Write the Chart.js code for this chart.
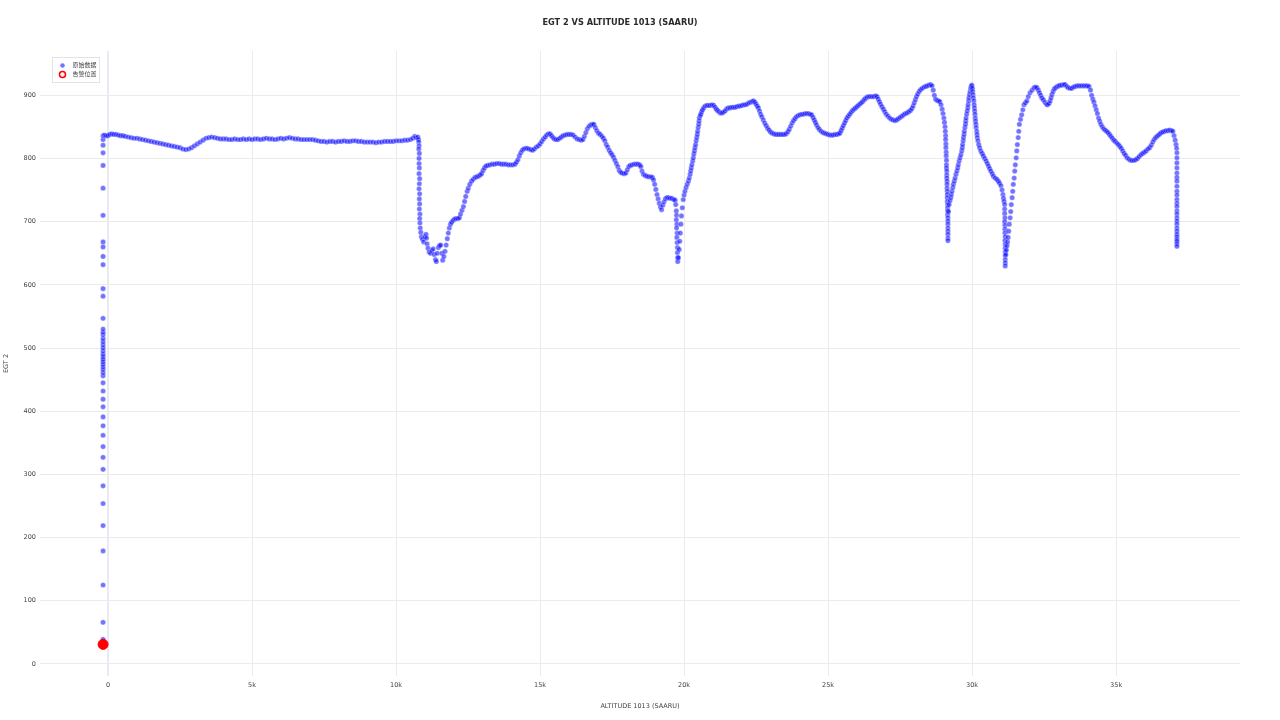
<!DOCTYPE html>
<html>
<head>
<meta charset="utf-8">
<script src="https://cdn.jsdelivr.net/npm/chart.js@4.4.1/dist/chart.umd.min.js"></script>
<style>
  html, body { margin: 0; padding: 0; background: #fff; }
  canvas { display: block; }
</style>
</head>
<body>
<canvas id="chart" width="1280" height="720"></canvas>
<script>
// Axis ticks
const altitudeTicks = [0, 5000, 10000, 15000, 20000, 25000, 30000, 35000];
const egtTicks = [0, 100, 200, 300, 400, 500, 600, 700, 800, 900];

// Raw samples: ALTITUDE 1013 (SAARU) vs EGT 2
const altitude = [
  // ground run before takeoff
  -170, -170, -170, -170, -170, -170, -170, -170, -170, -170,
  -170, -170, -170, -170, -170, -170, -170, -170, -170, -170,
  -170, -170, -170, -170, -170, -170, -170, -170, -170, -170,
  -170, -170, -170, -170, -170, -170, -170, -170, -170, -170,
  -170, -170, -170, -170, -170, -170, -170, -170, -170,
  // climb 0 - 10.8k
  -120, -60, 0, 60, 130, 200, 280, 360, 440, 520,
  600, 700, 800, 900, 1000, 1100, 1200, 1300, 1400, 1500,
  1600, 1700, 1800, 1900, 2000, 2100, 2200, 2300, 2400, 2500,
  2600, 2700, 2800, 2900, 3000, 3100, 3200, 3300, 3400, 3500,
  3600, 3700, 3800, 3900, 4000, 4100, 4200, 4300, 4400, 4500,
  4600, 4700, 4800, 4900, 5000, 5100, 5200, 5300, 5400, 5500,
  5600, 5700, 5800, 5900, 6000, 6100, 6200, 6300, 6400, 6500,
  6600, 6700, 6800, 6900, 7000, 7100, 7200, 7300, 7400, 7500,
  7600, 7700, 7800, 7900, 8000, 8100, 8200, 8300, 8400, 8500,
  8600, 8700, 8800, 8900, 9000, 9100, 9200, 9300, 9400, 9500,
  9600, 9700, 9800, 9900, 10000, 10100, 10200, 10300, 10400, 10500,
  10580, 10650, 10700, 10760, 10780, 10790, 10800, 10790, 10810, 10800,
  // drop at 10.8k and recovery
  10800, 10810, 10800, 10820, 10810, 10800, 10820, 10810, 10820, 10810,
  10830, 10820, 10830, 10840, 10860, 10880, 10920, 10960, 11000, 11040,
  11060, 11080, 11110, 11150, 11200, 11250, 11290, 11330, 11370, 11400,
  11430, 11470, 11510, 11550, 11590, 11620, 11660, 11700, 11740, 11780,
  11815, 11850, 11890, 11930, 11980, 12030, 12080, 12140, 12200, 12240,
  12290, 12340, 12380, 12420, 12470, 12510, 12560, 12620, 12680, 12740,
  12800, 12860, 12920, 12970, 13020, 13070, 13120, 13180, 13260, 13340,
  13420, 13500, 13580, 13660, 13740, 13820, 13900, 13980, 14060, 14130,
  14180, 14230, 14280, 14330, 14380, 14430, 14500, 14560, 14620, 14680,
  14740, 14800, 14870, 14940, 15000, 15060, 15120, 15180, 15230, 15290,
  15350, 15400, 15450, 15500, 15560, 15620, 15680, 15740, 15800, 15870,
  15940, 16010, 16080, 16150, 16220, 16290, 16360, 16430, 16490, 16540,
  16590, 16640, 16700, 16760, 16820, 16870, 16920, 16970, 17030, 17090,
  17150, 17200, 17250, 17300, 17350, 17400, 17450, 17500, 17550, 17600,
  17650, 17700, 17750, 17800, 17850, 17920, 17980, 18030, 18080, 18130,
  18200, 18270, 18340, 18400, 18460, 18500, 18540, 18590, 18650, 18710,
  18770, 18840, 18900, 18940, 18980, 19020, 19060, 19100, 19140, 19180,
  19220, 19260, 19300, 19350, 19400, 19460, 19520, 19580, 19640, 19690,
  // drop at 19.7k
  19710, 19730, 19740, 19730, 19750, 19740, 19760, 19750, 19760, 19770,
  19770, 19780, 19780, 19800, 19830, 19850, 19870, 19890, 19910, 19940,
  19970, 20000, 20030, 20070, 20110, 20150, 20180, 20210, 20230, 20250,
  20270, 20300, 20320, 20340, 20360, 20380, 20400, 20420, 20440, 20460,
  20470, 20490, 20510, 20520, 20530, 20560, 20580, 20610, 20640, 20680,
  20730, 20790, 20850, 20910, 20970, 21030, 21080, 21120, 21160, 21210,
  21260, 21310, 21360, 21420, 21470, 21530, 21590, 21650, 21710, 21770,
  21830, 21890, 21950, 22010, 22070, 22130, 22190, 22250, 22310, 22370,
  22410, 22460, 22500, 22540, 22580, 22620, 22660, 22700, 22750, 22800,
  22850, 22900, 22950, 23000, 23060, 23120, 23180, 23240, 23300, 23360,
  23420, 23480, 23540, 23600, 23650, 23700, 23750, 23800, 23850, 23900,
  23960, 24020, 24080, 24140, 24200, 24260, 24320, 24380, 24430, 24480,
  24520, 24560, 24600, 24650, 24700, 24760, 24820, 24880, 24940, 25000,
  25060, 25120, 25180, 25240, 25300, 25360, 25410, 25450, 25490, 25530,
  25570, 25610, 25650, 25700, 25750, 25800, 25850, 25900, 25950, 26000,
  26050, 26100, 26150, 26200, 26250, 26300, 26350, 26410, 26470, 26530,
  26590, 26650, 26700, 26740, 26780, 26820, 26870, 26920, 26970, 27020,
  27080, 27140, 27200, 27260, 27320, 27380, 27440, 27500, 27560, 27620,
  27680, 27740, 27800, 27860, 27910, 27950, 27990, 28030, 28070, 28110,
  28160, 28210, 28270, 28330, 28390, 28440, 28500, 28560, 28610, 28650,
  28690, 28730, 28780, 28830, 28880, 28920, 28960, 28990, 29020, 29040,
  // drop at 29.1k
  29060, 29070, 29080, 29080, 29090, 29090, 29100, 29100, 29110, 29110,
  29110, 29120, 29120, 29120, 29130, 29130, 29130, 29140, 29140, 29140,
  29140, 29150, 29150, 29150, 29150, 29160, 29160, 29160, 29160, 29160,
  29160, 29160, 29160, 29180, 29200, 29230, 29260, 29280, 29300, 29330,
  29350, 29380, 29410, 29440, 29470, 29500, 29520, 29550, 29580, 29610,
  29640, 29660, 29670, 29690, 29700, 29720, 29730, 29750, 29770, 29780,
  29790, 29810, 29830, 29850, 29860, 29880, 29890, 29910, 29930, 29950,
  29970, 29990, 30010, 30020, 30030, 30040, 30060, 30070, 30080, 30090,
  30100, 30110, 30120, 30130, 30140, 30160, 30170, 30180, 30200, 30230,
  30260, 30300, 30350, 30390, 30440, 30490, 30530, 30570, 30610, 30650,
  30700, 30740, 30800, 30860, 30910, 30950, 31000, 31040, 31070, 31090,
  // drop at 31.1k
  31110, 31130, 31130, 31130, 31140, 31130, 31140, 31140, 31140, 31150,
  31140, 31150, 31150, 31150, 31150, 31150, 31150, 31150, 31170, 31190,
  31210, 31230, 31250, 31270, 31290, 31320, 31340, 31360, 31390, 31410,
  31430, 31460, 31480, 31500, 31530, 31550, 31570, 31600, 31620, 31640,
  31680, 31720, 31760, 31800, 31850, 31900, 31950, 32010, 32080, 32150,
  32200, 32250, 32300, 32340, 32380, 32420, 32470, 32530, 32580, 32620,
  32670, 32710, 32740, 32770, 32810, 32850, 32900, 32960, 33010, 33060,
  33120, 33180, 33230, 33290, 33340, 33400, 33460, 33520, 33580, 33640,
  33700, 33760, 33820, 33880, 33940, 34000, 34060, 34110, 34150, 34190,
  34230, 34270, 34310, 34350, 34390, 34430, 34470, 34520, 34570, 34620,
  34670, 34720, 34770, 34820, 34870, 34920, 34970, 35030, 35080, 35130,
  35180, 35230, 35280, 35330, 35380, 35440, 35500, 35560, 35620, 35680,
  35740, 35800, 35860, 35920, 35980, 36040, 36100, 36160, 36220, 36270,
  36320, 36370, 36420, 36470, 36520, 36570, 36620, 36680, 36740, 36800,
  36860, 36920, 36970, 37010, 37050, 37080, 37100, 37110, 37110, 37110,
  // final drop at 37.1k
  37110, 37110, 37110, 37110, 37110, 37110, 37110, 37110, 37110, 37110,
  37110, 37110, 37110, 37110, 37110, 37110, 37110, 37110, 37110, 37110,
  37110, 37110, 37110
];

const egt2 = [
  36, 39, 66, 125, 179, 219, 254, 282, 308, 327,
  344, 362, 377, 391, 407, 419, 432, 445, 456, 461,
  466, 470, 474, 478, 482, 486, 490, 495, 500, 505,
  510, 515, 521, 525, 530, 547, 582, 594, 632, 645,
  660, 668, 710, 753, 789, 809, 821, 830, 836,
  837, 836, 836, 838, 839, 838, 838, 837, 836, 836,
  835, 834, 833, 832, 832, 831, 830, 829, 828, 827,
  826, 825, 824, 823, 822, 821, 820, 819, 818, 817,
  815, 814, 815, 817, 820, 823, 826, 829, 832, 833,
  834, 833, 832, 831, 831, 831, 830, 830, 831, 830,
  830, 831, 830, 831, 830, 831, 831, 830, 831, 832,
  831, 831, 830, 831, 832, 831, 832, 833, 832, 831,
  831, 830, 830, 830, 830, 830, 829, 828, 827, 827,
  826, 827, 827, 826, 827, 827, 828, 827, 827, 828,
  828, 827, 827, 826, 826, 826, 826, 825, 826, 826,
  827, 827, 827, 827, 828, 828, 828, 829, 829, 830,
  832, 835, 833, 834, 830, 826, 820, 815, 808, 800,
  792, 785, 776, 768, 760, 752, 744, 736, 728, 720,
  712, 705, 698, 690, 683, 676, 672, 668, 676, 680,
  674, 665, 658, 652, 650, 654, 657, 648, 640, 637,
  650, 659, 662, 663, 650, 639, 645, 653, 663, 673,
  682, 690, 696, 699, 702, 704, 705, 705, 706, 712,
  718, 724, 732, 740, 748, 753, 759, 764, 767, 770,
  771, 772, 774, 776, 781, 785, 788, 789, 790, 791,
  791, 792, 792, 791, 791, 791, 790, 790, 790, 791,
  794, 798, 804, 809, 813, 815, 816, 816, 815, 814,
  813, 815, 818, 820, 823, 827, 831, 834, 837, 839,
  839, 836, 833, 831, 830, 830, 832, 834, 836, 837,
  838, 838, 838, 837, 834, 831, 830, 829, 830, 835,
  841, 847, 851, 853, 854, 854, 849, 844, 840, 838,
  835, 832, 828, 822, 818, 813, 809, 806, 802, 797,
  792, 787, 781, 778, 777, 776, 777, 782, 787, 789,
  790, 791, 791, 791, 790, 787, 780, 775, 773, 772,
  771, 771, 770, 766, 759, 751, 743, 736, 729, 723,
  719, 726, 731, 736, 738, 738, 737, 737, 735, 734,
  727, 717, 710, 703, 696, 690, 682, 675, 667, 659,
  651, 643, 637, 643, 656, 669, 682, 696, 709, 722,
  735, 742, 748, 754, 759, 764, 769, 775, 780, 785,
  790, 796, 801, 807, 812, 817, 822, 828, 833, 838,
  843, 849, 854, 859, 864, 868, 870, 874, 877, 880,
  883, 884, 884, 884, 885, 884, 881, 878, 876, 874,
  872, 872, 873, 875, 878, 880, 880, 881, 881, 881,
  882, 883, 883, 884, 885, 885, 886, 888, 889, 890,
  891, 889, 886, 883, 880, 875, 870, 866, 861, 856,
  852, 848, 845, 842, 840, 839, 838, 838, 838, 838,
  838, 838, 839, 842, 846, 851, 856, 860, 863, 866,
  868, 869, 870, 870, 871, 871, 871, 870, 869, 865,
  861, 857, 853, 849, 846, 843, 841, 840, 839, 838,
  837, 837, 837, 838, 838, 839, 840, 844, 848, 852,
  856, 860, 864, 867, 870, 873, 876, 878, 880, 882,
  884, 886, 888, 890, 893, 895, 897, 898, 898, 898,
  898, 899, 898, 894, 890, 886, 882, 878, 874, 870,
  867, 864, 862, 861, 860, 861, 863, 865, 867, 869,
  871, 872, 874, 876, 879, 883, 888, 893, 898, 902,
  906, 909, 911, 913, 914, 915, 916, 917, 915, 908,
  900, 894, 892, 891, 890, 885, 878, 871, 864, 857,
  850, 843, 836, 830, 823, 817, 810, 804, 797, 790,
  785, 780, 774, 769, 764, 759, 753, 748, 743, 738,
  732, 727, 722, 717, 711, 706, 701, 696, 690, 685,
  680, 674, 670, 716, 727, 733, 738, 743, 748, 754,
  759, 764, 769, 775, 780, 785, 790, 796, 801, 806,
  812, 817, 822, 828, 833, 838, 843, 849, 854, 859,
  864, 870, 875, 880, 885, 891, 896, 901, 906, 911,
  914, 916, 911, 906, 901, 896, 891, 885, 880, 875,
  870, 864, 859, 854, 849, 843, 838, 833, 828, 822,
  817, 812, 808, 804, 800, 796, 792, 788, 784, 780,
  776, 772, 769, 767, 764, 761, 757, 750, 743, 737,
  732, 727, 720, 713, 706, 700, 694, 688, 682, 676,
  670, 664, 658, 652, 646, 640, 635, 630, 648, 655,
  662, 668, 675, 685, 696, 706, 716, 727, 738, 748,
  759, 769, 780, 790, 801, 812, 822, 833, 843, 854,
  862, 869, 877, 885, 888, 891, 898, 904, 908, 912,
  913, 912, 908, 904, 900, 896, 893, 889, 886, 885,
  887, 891, 896, 901, 906, 910, 912, 914, 915, 916,
  916, 917, 917, 914, 912, 911, 911, 913, 914, 915,
  915, 915, 915, 915, 915, 915, 914, 908, 900, 894,
  889, 883, 877, 871, 864, 859, 854, 850, 847, 845,
  843, 841, 838, 835, 832, 829, 827, 824, 822, 819,
  816, 812, 808, 805, 801, 799, 797, 797, 797, 798,
  800, 803, 806, 808, 810, 812, 815, 817, 821, 826,
  830, 833, 835, 837, 839, 841, 842, 843, 844, 844,
  845, 844, 843, 836, 829, 822, 816, 809, 801, 793,
  785, 777, 770, 764, 756, 748, 742, 735, 729, 724,
  717, 712, 706, 701, 696, 690, 685, 680, 676, 672,
  669, 665, 661
];

// Alarm position
const alarmAltitude = [-170];
const alarmEgt = [31];

const RAW_COLOR = 'rgba(0, 0, 255, 0.55)';
const ALARM_COLOR = '#ff0000';
const FONT = "'DejaVu Sans', 'Noto Sans CJK SC', sans-serif";

function toPoints(xs, ys) {
  return xs.map((x, i) => ({ x: x, y: ys[i] }));
}

function kLabel(v) {
  return v === 0 ? '0' : (v / 1000) + 'k';
}

// Legend box drawn inside the plot, top left
const insideLegend = {
  id: 'insideLegend',
  afterDraw(chart) {
    const ctx = chart.ctx;
    const area = chart.chartArea;
    const x = Math.round(area.left + 12) + 0.5;
    const y = Math.round(area.top + 6) + 0.5;
    ctx.save();
    ctx.fillStyle = '#fff';
    ctx.strokeStyle = '#e3e3e3';
    ctx.lineWidth = 1;
    ctx.fillRect(x, y, 47, 25);
    ctx.strokeRect(x, y, 47, 25);

    // raw data marker
    ctx.beginPath();
    ctx.arc(x + 10, y + 8, 2.3, 0, Math.PI * 2);
    ctx.fillStyle = RAW_COLOR;
    ctx.fill();

    // alarm marker (ring)
    ctx.beginPath();
    ctx.arc(x + 10, y + 17, 3, 0, Math.PI * 2);
    ctx.fillStyle = '#fff';
    ctx.fill();
    ctx.strokeStyle = ALARM_COLOR;
    ctx.lineWidth = 1.5;
    ctx.stroke();

    ctx.fillStyle = '#444';
    ctx.font = '6px ' + FONT;
    ctx.textBaseline = 'middle';
    ctx.textAlign = 'left';
    ctx.fillText('原始数据', x + 20, y + 8);
    ctx.fillText('告警位置', x + 20, y + 17);
    ctx.restore();
  }
};

new Chart(document.getElementById('chart'), {
  type: 'scatter',
  data: {
    datasets: [
      {
        label: '告警位置',
        data: toPoints(alarmAltitude, alarmEgt),
        backgroundColor: ALARM_COLOR,
        borderColor: ALARM_COLOR,
        borderWidth: 1,
        pointRadius: 5
      },
      {
        label: '原始数据',
        data: toPoints(altitude, egt2),
        backgroundColor: RAW_COLOR,
        borderColor: 'rgba(255, 255, 255, 0.6)',
        borderWidth: 0.5,
        pointRadius: 2.6
      }
    ]
  },
  options: {
    responsive: false,
    animation: false,
    events: [],
    layout: { padding: { left: 0, right: 40, top: 0, bottom: 0 } },
    plugins: {
      legend: { display: false },
      tooltip: { enabled: false },
      title: {
        display: true,
        text: 'EGT 2 VS ALTITUDE 1013 (SAARU)',
        color: '#2a2a2a',
        font: { family: FONT, size: 8.2, weight: 'bold', lineHeight: 1.2 },
        padding: { top: 18, bottom: 23.2 }
      }
    },
    scales: {
      x: {
        type: 'linear',
        min: -2360,
        max: 39300,
        afterBuildTicks: (scale) => { scale.ticks = altitudeTicks.map(v => ({ value: v })); },
        afterFit: (scale) => { scale.height = 44; },
        border: { display: false },
        grid: {
          drawTicks: false,
          color: (c) => (c.tick && c.tick.value === 0 ? '#e6ebf4' : '#ebebeb'),
          lineWidth: (c) => (c.tick && c.tick.value === 0 ? 2 : 1)
        },
        ticks: {
          padding: 5,
          color: '#444',
          font: { family: FONT, size: 6.5 },
          callback: (v) => kLabel(v)
        },
        title: {
          display: true,
          text: 'ALTITUDE 1013 (SAARU)',
          color: '#444',
          font: { family: FONT, size: 6.5 },
          padding: { top: 0, bottom: 10 }
        }
      },
      y: {
        type: 'linear',
        min: -19,
        max: 970,
        afterBuildTicks: (scale) => { scale.ticks = egtTicks.map(v => ({ value: v })); },
        afterFit: (scale) => { scale.width = 40; },
        border: { display: false },
        grid: {
          drawTicks: false,
          color: '#ebebeb',
          lineWidth: 1
        },
        ticks: {
          padding: 4,
          color: '#444',
          font: { family: FONT, size: 6.5 }
        },
        title: {
          display: true,
          text: 'EGT 2',
          color: '#444',
          font: { family: FONT, size: 6.5 },
          padding: { top: 2, bottom: 0 }
        }
      }
    }
  },
  plugins: [insideLegend]
});
</script>
</body>
</html>
